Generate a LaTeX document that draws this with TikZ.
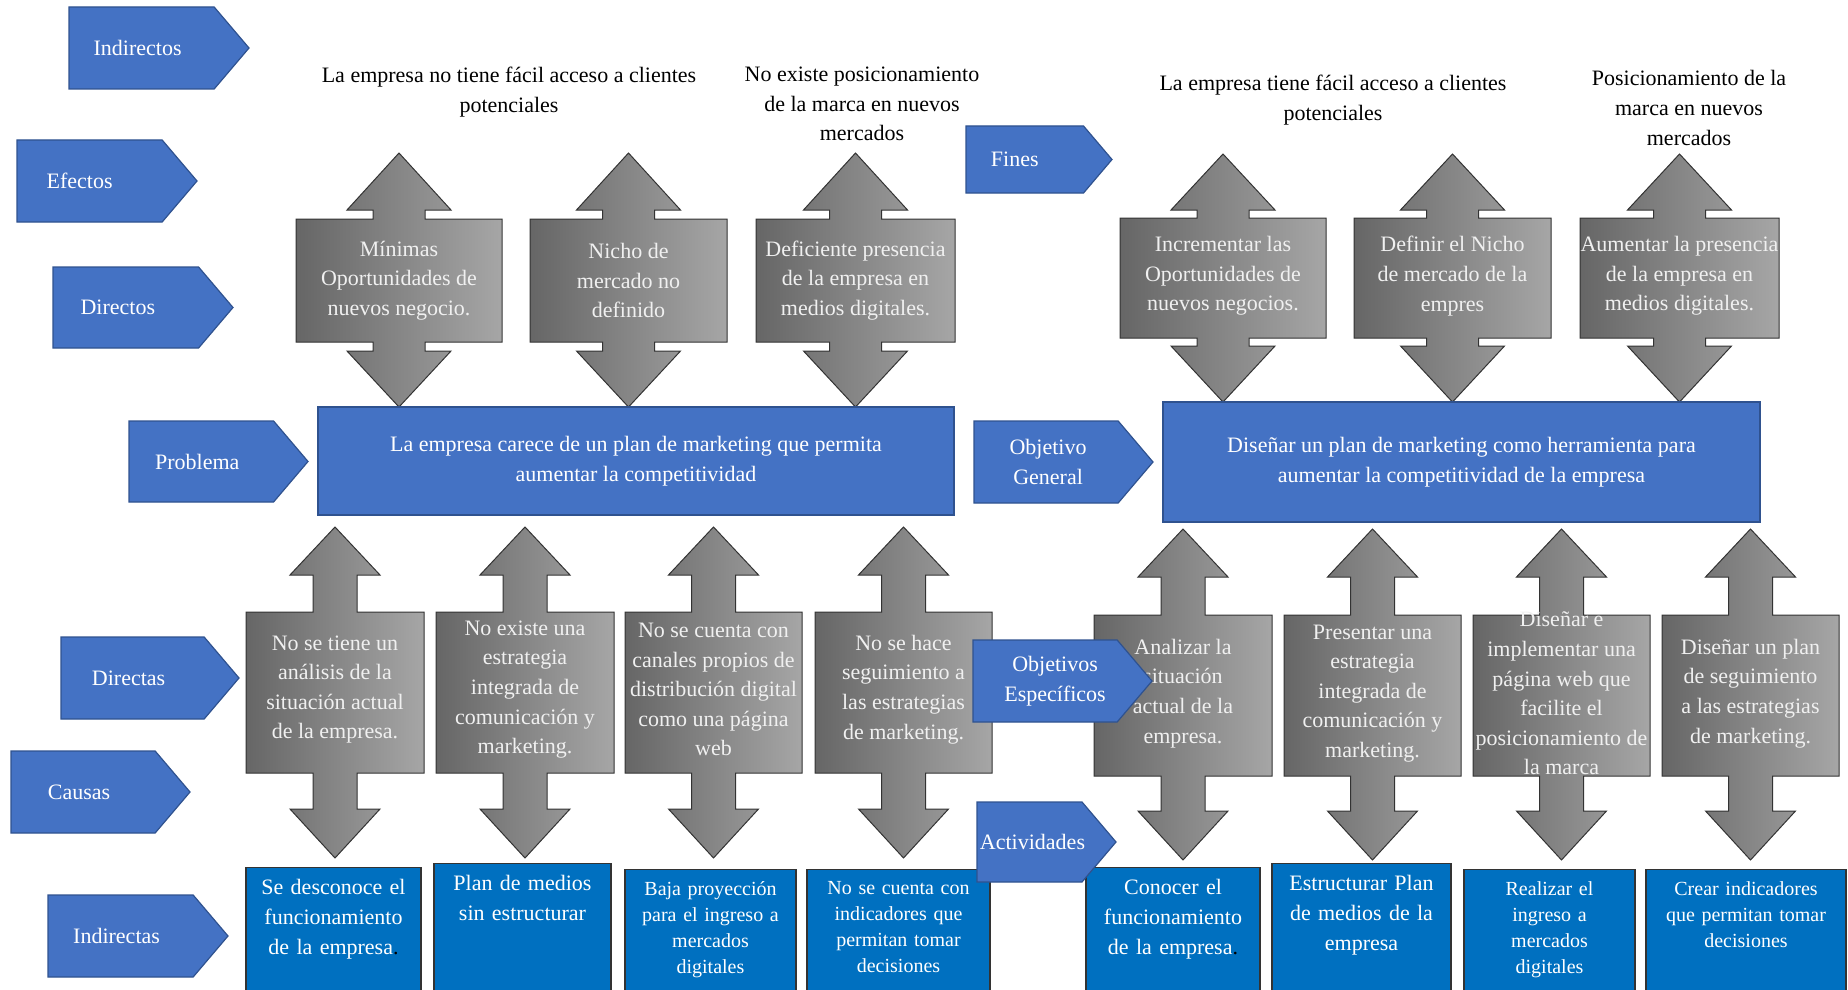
\documentclass[tikz,border=0pt]{standalone}
\usepackage{fontspec}
\setmainfont{Liberation Serif}
\usepackage{xcolor}
\usepackage{tikz}
\usetikzlibrary{positioning}

\definecolor{azulEtq}{HTML}{4472C4}
\definecolor{bordeEtq}{HTML}{2F528F}
\definecolor{azulCaja}{HTML}{0070C0}
\definecolor{grisOsc}{HTML}{666666}
\definecolor{grisCla}{HTML}{A6A6A6}

% alturas de una fila de flechas dobles
\newcommand{\fila}[9]{%
  \def\fPuntaS{#1}\def\fBaseS{#2}\def\fCajaS{#3}\def\fCajaI{#4}%
  \def\fBaseI{#5}\def\fPuntaI{#6}\def\fCabeza{#7}\def\fAsta{#8}\def\fTexto{#9}}

\newcommand{\flecha}[4]{%
  \path[gris] (#2,\fPuntaS) -- (#2+\fCabeza,\fBaseS) -- (#2+\fAsta,\fBaseS)
    -- (#2+\fAsta,\fCajaS) -- (#2+#3,\fCajaS) -- (#2+#3,\fCajaI) -- (#2+\fAsta,\fCajaI)
    -- (#2+\fAsta,\fBaseI) -- (#2+\fCabeza,\fBaseI) -- (#2,\fPuntaI)
    -- (#2-\fCabeza,\fBaseI) -- (#2-\fAsta,\fBaseI) -- (#2-\fAsta,\fCajaI)
    -- (#2-#3,\fCajaI) -- (#2-#3,\fCajaS) -- (#2-\fAsta,\fCajaS)
    -- (#2-\fAsta,\fBaseS) -- (#2-\fCabeza,\fBaseS) -- cycle;
  \node[txtgris] (#1) at (#2,{(\fCajaS+\fCajaI)/2+\fTexto}) {#4};}

\newcommand{\etiqueta}[7][0]{%
  \path[etq] (#3,#4) -- ({#5-0.425*(#6-#4)},#4) -- (#5,{(#4+#6)/2})
    -- ({#5-0.425*(#6-#4)},#6) -- (#3,#6) -- cycle;
  \node[txtetq] (#2) at ({(#3+#5-0.425*(#6-#4))/2-4+#1},{(#4+#6)/2}) {#7};}

\begin{document}
\begin{tikzpicture}[
    x=0.5pt, y=-0.5pt,
    every node/.style={font=\fontsize{11}{14.8}\selectfont},
    chica/.style={font=\fontsize{10}{13}\selectfont},
    etq/.style={fill=azulEtq, draw=bordeEtq, line width=0.6pt},
    txtetq/.style={text=white, align=center, inner sep=0pt},
    gris/.style={left color=grisOsc, right color=grisCla, draw=black!80, line width=0.5pt},
    txtgris/.style={text=white!94!black, align=center, inner sep=0pt},
    central/.style={rectangle, fill=azulEtq, draw=bordeEtq, line width=0.6pt,
        text=white, align=center},
    caja/.style={rectangle, fill=azulCaja, draw=black!80, line width=0.6pt,
        text=white, align=center, anchor=north, inner xsep=0pt, inner ysep=6pt,
        text width=#1, text depth=75pt},
    efecto/.style={align=center, inner sep=0pt}
]
\useasboundingbox (0,0) rectangle (1848,990);

\fila{153}{210}{219}{342}{351}{407}{52}{26}{0}
\flecha{e1}{399}{103}{Mínimas\\Oportunidades de\\nuevos negocio.}
\flecha{e2}{628.5}{98.5}{Nicho de\\mercado no\\definido}
\flecha{e3}{855.5}{99.5}{Deficiente presencia\\de la empresa en\\medios digitales.}
\fila{154}{210}{218}{338}{346}{402}{52}{26}{-2}
\flecha{f1}{1223}{103}{Incrementar las\\Oportunidades de\\nuevos negocios.}
\flecha{f2}{1452.5}{98.5}{Definir el Nicho\\de mercado de la\\empres}
\flecha{f3}{1679.5}{99.5}{Aumentar la presencia\\de la empresa en\\medios digitales.}

\fila{527}{575}{612}{773}{809}{858}{45}{22}{-3}
\flecha{c1}{335}{89}{No se tiene un\\análisis de la\\situación actual\\de la empresa.}
\flecha{c2}{525}{89}{No existe una\\estrategia\\integrada de\\comunicación y\\marketing.}
\flecha{c3}{713.5}{88.5}{No se cuenta con\\canales propios de\\distribución digital\\como una página\\web}
\flecha{c4}{903.5}{88.5}{No se hace\\seguimiento a\\las estrategias\\de marketing.}
\fila{529}{577}{615}{776}{811}{860}{45}{22}{-2}
\flecha{o1}{1183}{89}{Analizar la\\situación\\actual de la\\empresa.}
\flecha{o2}{1372.5}{88.5}{Presentar una\\estrategia\\integrada de\\comunicación y\\marketing.}
\flecha{o3}{1561.5}{88.5}{Diseñar e\\implementar una\\página web que\\facilite el\\posicionamiento de\\la marca}
\flecha{o4}{1750.5}{88.5}{Diseñar un plan\\de seguimiento\\a las estrategias\\de marketing.}

\node[central, minimum width=318pt, minimum height=54pt] (problema) at (636,461)
    {La empresa carece de un plan de marketing que permita\\aumentar la competitividad};
\node[central, minimum width=298.5pt, minimum height=60pt] (objetivo) at (1461.5,462)
    {Diseñar un plan de marketing como herramienta para\\aumentar la competitividad de la empresa};

\node[caja=87.5pt] (i1) at (333.5,867) {Se desconoce el\\funcionamiento\\de la empresa{\color{black}.}};
\node[caja=88.5pt] (i2) at (522.5,863) {Plan de medios\\sin estructurar};
\node[caja=85.5pt, chica] (i3) at (710.5,869) {Baja proyección\\para el ingreso a\\mercados\\digitales};
\node[caja=91.5pt, chica] (i4) at (898.5,869) {No se cuenta con\\indicadores que\\permitan tomar\\decisiones};
\node[caja=87pt] (act1) at (1173,867) {Conocer el\\funcionamiento\\de la empresa{\color{black}.}};
\node[caja=89.5pt] (act2) at (1361.5,863) {Estructurar Plan\\de medios de la\\empresa};
\node[caja=85.5pt, chica] (act3) at (1549.5,869) {Realizar el\\ingreso a\\mercados\\digitales};
\node[caja=100pt, chica] (act4) at (1746,869) {Crear indicadores\\que permitan tomar\\decisiones};

\node[efecto] (efecto1) at (509,92) {La empresa no tiene fácil acceso a clientes\\potenciales};
\node[efecto] (efecto2) at (862,104) {No existe posicionamiento\\de la marca en nuevos\\mercados};
\node[efecto] (fin1) at (1333,100) {La empresa tiene fácil acceso a clientes\\potenciales};
\node[efecto] (fin2) at (1689,108) {Posicionamiento de la\\marca en nuevos\\mercados};

\etiqueta{indirectos}{69}{7}{249}{89}{Indirectos}
\etiqueta[-6]{efectos}{17}{140}{197}{222}{Efectos}
\etiqueta[-4]{directos}{53}{267}{233}{348}{Directos}
\etiqueta{lproblema}{129}{421}{308}{502}{Problema}
\etiqueta{directas}{61}{637}{239}{719}{Directas}
\etiqueta{causas}{11}{751}{190}{833}{Causas}
\etiqueta{indirectas}{48}{895}{228}{977}{Indirectas}
\etiqueta[-6]{fines}{966}{126}{1112}{193}{Fines}
\etiqueta[6]{lobjetivo}{974}{421}{1153}{503}{Objetivo\\General}
\etiqueta[14]{especificos}{973}{640}{1152}{722}{Objetivos\\Específicos}
\etiqueta[7]{actividades}{977}{802}{1116}{882}{Actividades}
\end{tikzpicture}
\end{document}
